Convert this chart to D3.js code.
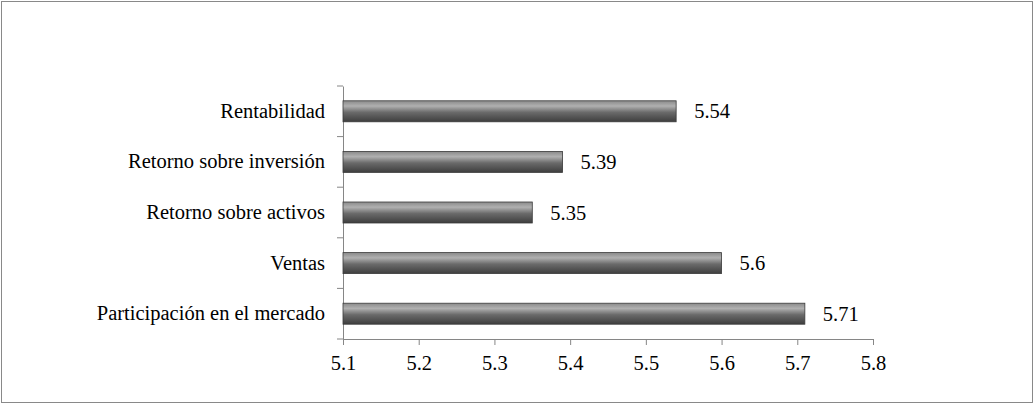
<!DOCTYPE html>
<html><head><meta charset="utf-8">
<script src="https://cdn.jsdelivr.net/npm/d3@7"></script>
<style>body{margin:0;background:#fff}</style>
</head><body>
<svg width="1035" height="405"></svg>
<script>
const categories = ["Rentabilidad", "Retorno sobre inversión", "Retorno sobre activos", "Ventas", "Participación en el mercado"];
const values = [5.54, 5.39, 5.35, 5.6, 5.71];
const valueLabels = ["5.54", "5.39", "5.35", "5.6", "5.71"];
const xTicks = [5.1, 5.2, 5.3, 5.4, 5.5, 5.6, 5.7, 5.8];

const svg = d3.select("svg");
const font = "'Liberation Serif', 'Times New Roman', serif";
const fs = 20.5;

svg.append("rect").attr("x", 1.5).attr("y", 1.5).attr("width", 1031).attr("height", 401)
    .attr("fill", "#fff").attr("stroke", "#898989");

const area = {left: 343, right: 873, top: 86, bottom: 339};

const x = d3.scaleLinear().domain([5.1, 5.8]).range([area.left, area.right]);
const y = d3.scaleBand().domain(categories).range([area.top, area.bottom]);

// gradient for the bars
const grad = svg.append("defs").append("linearGradient")
    .attr("id", "barGrad").attr("x1", 0).attr("y1", 0).attr("x2", 0).attr("y2", 1);
grad.append("stop").attr("offset", "0%").attr("stop-color", "#8a8a8a");
grad.append("stop").attr("offset", "25%").attr("stop-color", "#b0b0b0");
grad.append("stop").attr("offset", "55%").attr("stop-color", "#6a6a6a");
grad.append("stop").attr("offset", "100%").attr("stop-color", "#3e3e3e");

// axes
const axisX = svg.append("g").attr("transform", `translate(0,${area.bottom})`)
    .call(d3.axisBottom(x).tickValues(xTicks).tickFormat(d3.format(".1f")).tickSizeOuter(0).tickSize(6).tickPadding(10));
const axisY = svg.append("g").attr("transform", `translate(${area.left},0)`)
    .call(d3.axisLeft(y).tickSize(0).tickPadding(18));
// boundary ticks on y axis
svg.append("g").selectAll("line")
    .data(d3.range(categories.length + 1))
    .enter().append("line")
    .attr("x1", area.left - 6).attr("x2", area.left)
    .attr("y1", i => area.top + i * y.step()).attr("y2", i => area.top + i * y.step())
    .attr("stroke", "#868686");

[axisX, axisY].forEach(g => {
    g.selectAll("path,line").attr("stroke", "#868686");
    g.selectAll("text").attr("font-family", font).attr("font-size", fs).attr("fill", "#000");
});

const barH = 21;
svg.selectAll(".bar").data(categories).enter().append("rect")
    .attr("x", x(5.1))
    .attr("y", d => y(d) + y.bandwidth() / 2 - barH / 2)
    .attr("width", (d, i) => x(values[i]) - x(5.1))
    .attr("height", barH)
    .attr("fill", "url(#barGrad)")
    .attr("stroke", "#3a3a3a").attr("stroke-width", 0.8);

svg.selectAll(".lab").data(categories).enter().append("text")
    .attr("x", (d, i) => x(values[i]) + 18)
    .attr("y", d => y(d) + y.bandwidth() / 2 + 7)
    .attr("font-family", font).attr("font-size", fs)
    .text((d, i) => valueLabels[i]);
</script>
</body></html>
